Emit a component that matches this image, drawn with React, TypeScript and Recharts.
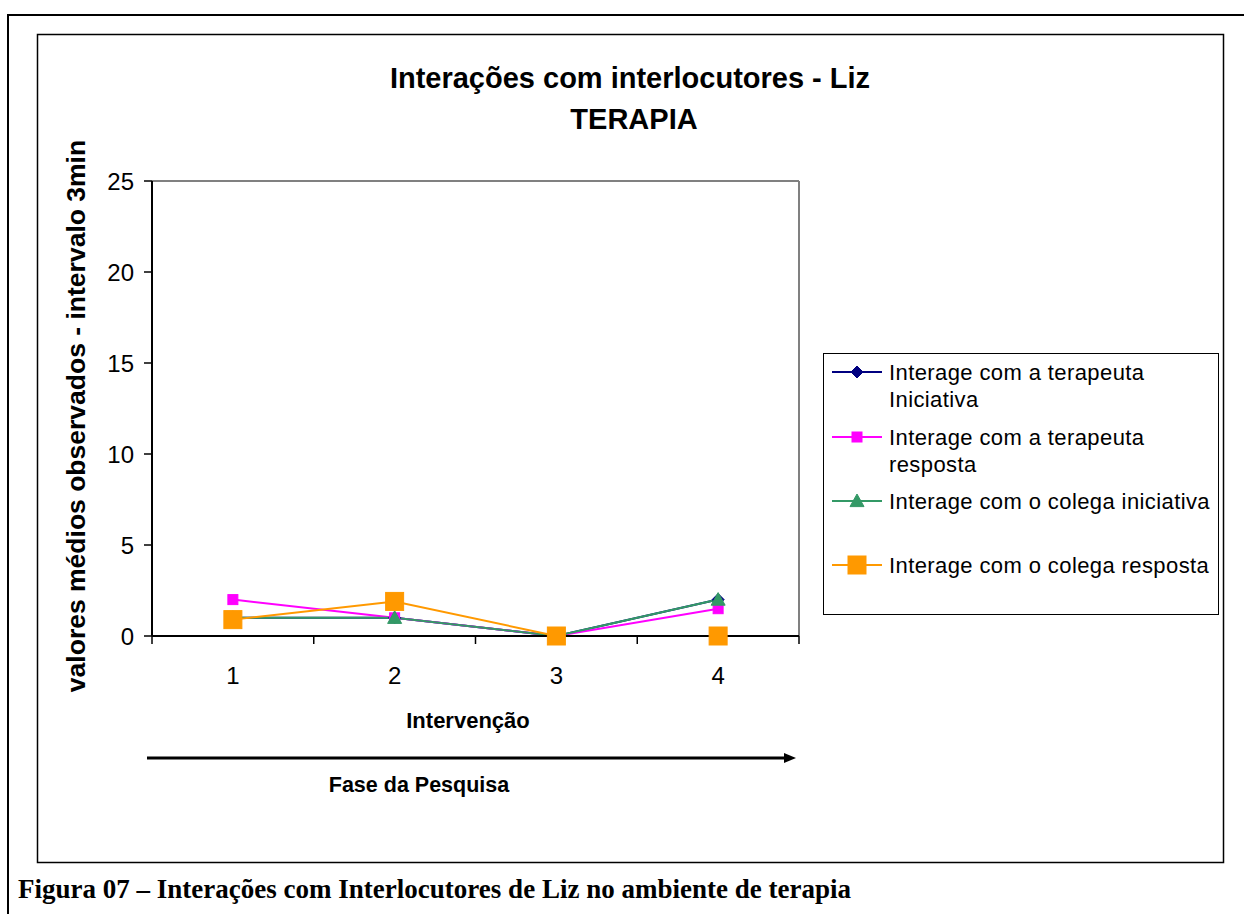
import React from 'react';
import { LineChart, Line, XAxis, YAxis, ReferenceLine } from 'recharts';

const categories = ['1', '2', '3', '4'];
const terapeutaIniciativa = [1, 1, 0, 2];
const terapeutaResposta = [2, 1, 0, 1.5];
const colegaIniciativa = [1, 1, 0, 2];
const colegaResposta = [0.9, 1.9, 0, 0];
const yTicks = [0, 5, 10, 15, 20, 25];
const xTicks = [0.5, 1, 1.5, 2, 2.5, 3, 3.5, 4, 4.5];

const seriesKeys = ['s1', 's2', 's3', 's4'];
const seriesLabels = [
  ['Interage com a terapeuta', 'Iniciativa'],
  ['Interage com a terapeuta', 'resposta'],
  ['Interage com o colega iniciativa'],
  ['Interage com o colega resposta'],
];
const seriesColors = ['#000080', '#FF00FF', '#339966', '#FF9900'];
const seriesMarkers = ['diamond', 'square', 'triangle', 'bigsquare'];

const data = categories.map((c, i) => ({
  x: i + 1,
  s1: terapeutaIniciativa[i],
  s2: terapeutaResposta[i],
  s3: colegaIniciativa[i],
  s4: colegaResposta[i],
}));

const FONT = '"Liberation Sans", Arial, sans-serif';
const SERIF = '"Liberation Serif", "Times New Roman", serif';

function Marker({ kind, cx, cy, color }: { kind: string; cx: number; cy: number; color: string }) {
  if (kind === 'diamond') {
    const r = 6;
    return <polygon points={`${cx},${cy - r} ${cx + r},${cy} ${cx},${cy + r} ${cx - r},${cy}`} fill={color} stroke={color} />;
  }
  if (kind === 'square') {
    const r = 5;
    return <rect x={cx - r} y={cy - r} width={2 * r} height={2 * r} fill={color} stroke={color} />;
  }
  if (kind === 'triangle') {
    const r = 7;
    return <polygon points={`${cx},${cy - r} ${cx + r},${cy + r * 0.8} ${cx - r},${cy + r * 0.8}`} fill={color} stroke={color} />;
  }
  const r = 9;
  return <rect x={cx - r} y={cy - r} width={2 * r} height={2 * r} fill={color} stroke={color} />;
}

const makeDot = (idx: number) => (p: any) => {
  if (p.cx == null || p.cy == null) return <g key={`d${idx}-${p.index}`} />;
  return (
    <g key={`d${idx}-${p.index}`}>
      <Marker kind={seriesMarkers[idx]} cx={p.cx} cy={p.cy} color={seriesColors[idx]} />
    </g>
  );
};

const XTick = (props: any) => {
  const { x, y, payload } = props;
  const v = payload.value;
  if (Number.isInteger(v)) {
    return (
      <text x={x} y={y + 48} textAnchor="middle" fontSize={24} fontFamily={FONT} fill="#000">
        {categories[v - 1]}
      </text>
    );
  }
  return <line x1={x} x2={x} y1={y} y2={y + 8} stroke="#000" strokeWidth={1.5} />;
};

const legendRowY = [372, 437, 501, 565];

export default function App() {
  return (
    <div style={{ position: 'absolute', left: 0, top: 0, width: 1244, height: 914, background: '#fff', overflow: 'hidden' }}>
      <div style={{ position: 'absolute', left: 0, top: 0 }}>
        <LineChart width={1244} height={914} data={data} margin={{ top: 181, right: 445, left: 0, bottom: 178 }}>
          <XAxis
            type="number"
            dataKey="x"
            domain={[0.5, 4.5]}
            ticks={xTicks}
            interval={0}
            tick={<XTick />}
            tickLine={false}
            tickSize={0}
            tickMargin={0}
            height={100}
            axisLine={{ stroke: '#000', strokeWidth: 2 }}
          />
          <YAxis
            type="number"
            domain={[0, 25]}
            ticks={yTicks}
            interval={0}
            width={152}
            tickSize={8}
            tickMargin={10}
            tickLine={{ stroke: '#000', strokeWidth: 1.5 }}
            axisLine={{ stroke: '#000', strokeWidth: 2 }}
            tick={{ fontSize: 24, fontFamily: FONT, fill: '#000' }}
          />
          <ReferenceLine y={25} stroke="#808080" strokeWidth={2} ifOverflow="extendDomain" />
          <ReferenceLine x={4.5} stroke="#808080" strokeWidth={2} />
          {seriesKeys.map((k, i) => (
            <Line
              key={k}
              type="linear"
              dataKey={k}
              stroke={seriesColors[i]}
              strokeWidth={2}
              dot={makeDot(i)}
              activeDot={false}
              isAnimationActive={false}
            />
          ))}
        </LineChart>
      </div>
      <svg width={1244} height={914} style={{ position: 'absolute', left: 0, top: 0, pointerEvents: 'none' }}>
        <path d="M8 914 L8 15 L1250 15" fill="none" stroke="#000" strokeWidth={2} />
        <rect x={37.5} y={34.5} width={1186} height={828} fill="none" stroke="#000" strokeWidth={1.5} />
        <text x={630} y={88} textAnchor="middle" fontSize={29} fontWeight="bold" fontFamily={FONT}>
          Interações com interlocutores - Liz
        </text>
        <text x={634} y={129} textAnchor="middle" fontSize={29} fontWeight="bold" fontFamily={FONT}>
          TERAPIA
        </text>
        <text
          x={0}
          y={0}
          transform="translate(85,416) rotate(-90)"
          textAnchor="middle"
          fontSize={26.5}
          fontWeight="bold"
          fontFamily={FONT}
        >
          valores médios observados - intervalo 3min
        </text>
        <text x={468} y={728} textAnchor="middle" fontSize={22} fontWeight="bold" fontFamily={FONT}>
          Intervenção
        </text>
        <line x1={147} y1={758} x2={786} y2={758} stroke="#000" strokeWidth={3} />
        <polygon points="796,758 784,753 784,763" fill="#000" />
        <text x={419} y={792} textAnchor="middle" fontSize={21.5} fontWeight="bold" fontFamily={FONT}>
          Fase da Pesquisa
        </text>
        <rect x={823.5} y={353.5} width={395} height={261} fill="#fff" stroke="#000" strokeWidth={1} />
        {seriesLabels.map((lines, i) => (
          <g key={`lg${i}`}>
            <line x1={832} x2={882} y1={legendRowY[i]} y2={legendRowY[i]} stroke={seriesColors[i]} strokeWidth={2} />
            <Marker kind={seriesMarkers[i]} cx={857} cy={legendRowY[i]} color={seriesColors[i]} />
            {lines.map((t, j) => (
              <text key={j} x={889} y={legendRowY[i] + 8 + j * 27} fontSize={22} fontFamily={FONT} letterSpacing={0.4} fill="#000">
                {t}
              </text>
            ))}
          </g>
        ))}
        <text x={18} y={898} fontSize={27} fontWeight="bold" fontFamily={SERIF} fill="#000" textLength={833} lengthAdjust="spacingAndGlyphs">
          Figura 07 – Interações com Interlocutores de Liz no ambiente de terapia
        </text>
      </svg>
    </div>
  );
}
